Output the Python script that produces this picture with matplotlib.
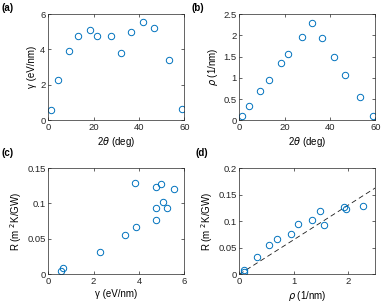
import numpy as np
import matplotlib.pyplot as plt

plt.rcParams['font.family'] = ['Liberation Sans', 'DejaVu Sans']
plt.rcParams['mathtext.fontset'] = 'dejavusans'

# data
two_theta = [1.0, 4.1, 9.3, 12.9, 18.4, 21.6, 27.6, 32.1, 36.3, 41.9, 46.6, 53.4, 58.8]
gamma = [0.58, 2.26, 3.89, 4.76, 5.08, 4.74, 4.77, 3.82, 4.98, 5.56, 5.23, 3.40, 0.64]
rho = [0.09, 0.33, 0.69, 0.95, 1.34, 1.56, 1.97, 2.28, 1.93, 1.48, 1.07, 0.54, 0.09]
R = [0.004, 0.032, 0.067, 0.076, 0.102, 0.093, 0.123, 0.129, 0.127, 0.120, 0.094, 0.055, 0.0085]
fit_slope = 0.065  # dashed line in (d)
fit_x = [0, 2.5]

blue = (0.0, 0.447, 0.741)
edge = (0.15, 0.15, 0.15)

fig = plt.figure(figsize=(3.82, 3.07), dpi=100)
W, H = 382, 307


def make_ax(x0, y0):
    # positions in pixels (left, top) of the plot box
    ax = fig.add_axes([x0 / W, 1 - (y0 + 106.3) / H, 136 / W, 106.3 / H])
    for s in ax.spines.values():
        s.set_color(edge)
        s.set_linewidth(0.5)
    ax.tick_params(direction='in', length=2.5, width=0.5, labelsize=6.8,
                   colors=edge, top=True, right=True, pad=2)
    ax.tick_params(labeltop=False, labelright=False)
    return ax


mk = dict(marker='o', linestyle='none', markersize=4.6, markerfacecolor='none',
          markeredgecolor=blue, markeredgewidth=0.7)

ax = make_ax(48.3, 14)
ax.plot(two_theta, gamma, **mk)
ax.set_xlim(0, 60)
ax.set_ylim(0, 6)
ax.set_xticks([0, 20, 40, 60])
ax.set_yticks([0, 2, 4, 6])
ax.set_xlabel(r'2$\theta$ (deg)', fontsize=7, labelpad=2)
ax.set_ylabel('γ (eV/nm)', fontsize=7, labelpad=2)

ax = make_ax(239.3, 14)
ax.plot(two_theta, rho, **mk)
ax.set_xlim(0, 60)
ax.set_ylim(0, 2.5)
ax.set_xticks([0, 20, 40, 60])
ax.set_yticks([0, 0.5, 1, 1.5, 2, 2.5])
ax.set_yticklabels(['0', '0.5', '1', '1.5', '2', '2.5'])
ax.set_xlabel(r'2$\theta$ (deg)', fontsize=7, labelpad=2)
ax.set_ylabel(r'$\rho$ (1/nm)', fontsize=7, labelpad=2)

ax = make_ax(48.3, 168)
ax.plot(gamma, R, **mk)
ax.set_xlim(0, 6)
ax.set_ylim(0, 0.15)
ax.set_xticks([0, 2, 4, 6])
ax.set_yticks([0, 0.05, 0.1, 0.15])
ax.set_yticklabels(['0', '0.05', '0.1', '0.15'])
ax.set_xlabel('γ (eV/nm)', fontsize=7, labelpad=2)
ax.set_ylabel(r'R (m $^2$K/GW)', fontsize=7, labelpad=2)

ax = make_ax(239.3, 168)
ax.plot(fit_x, [fit_slope * v for v in fit_x], color='0.1', linestyle=(0, (6, 4)), linewidth=0.6)
ax.plot(rho, R, **mk)
ax.set_xlim(0, 2.5)
ax.set_ylim(0, 0.2)
ax.set_xticks([0, 1, 2])
ax.set_yticks([0, 0.05, 0.1, 0.15, 0.2])
ax.set_yticklabels(['0', '0.05', '0.1', '0.15', '0.2'])
ax.set_xlabel(r'$\rho$ (1/nm)', fontsize=7, labelpad=2)
ax.set_ylabel(r'R (m $^2$K/GW)', fontsize=7, labelpad=2)

for lab, x, y in [('(a)', 1, 3), ('(b)', 192, 3), ('(c)', 1, 148), ('(d)', 196, 148)]:
    fig.text(x / W, 1 - y / H, lab, fontsize=7, fontweight='bold', va='top', ha='left')

fig.savefig('out.png', dpi=100)
